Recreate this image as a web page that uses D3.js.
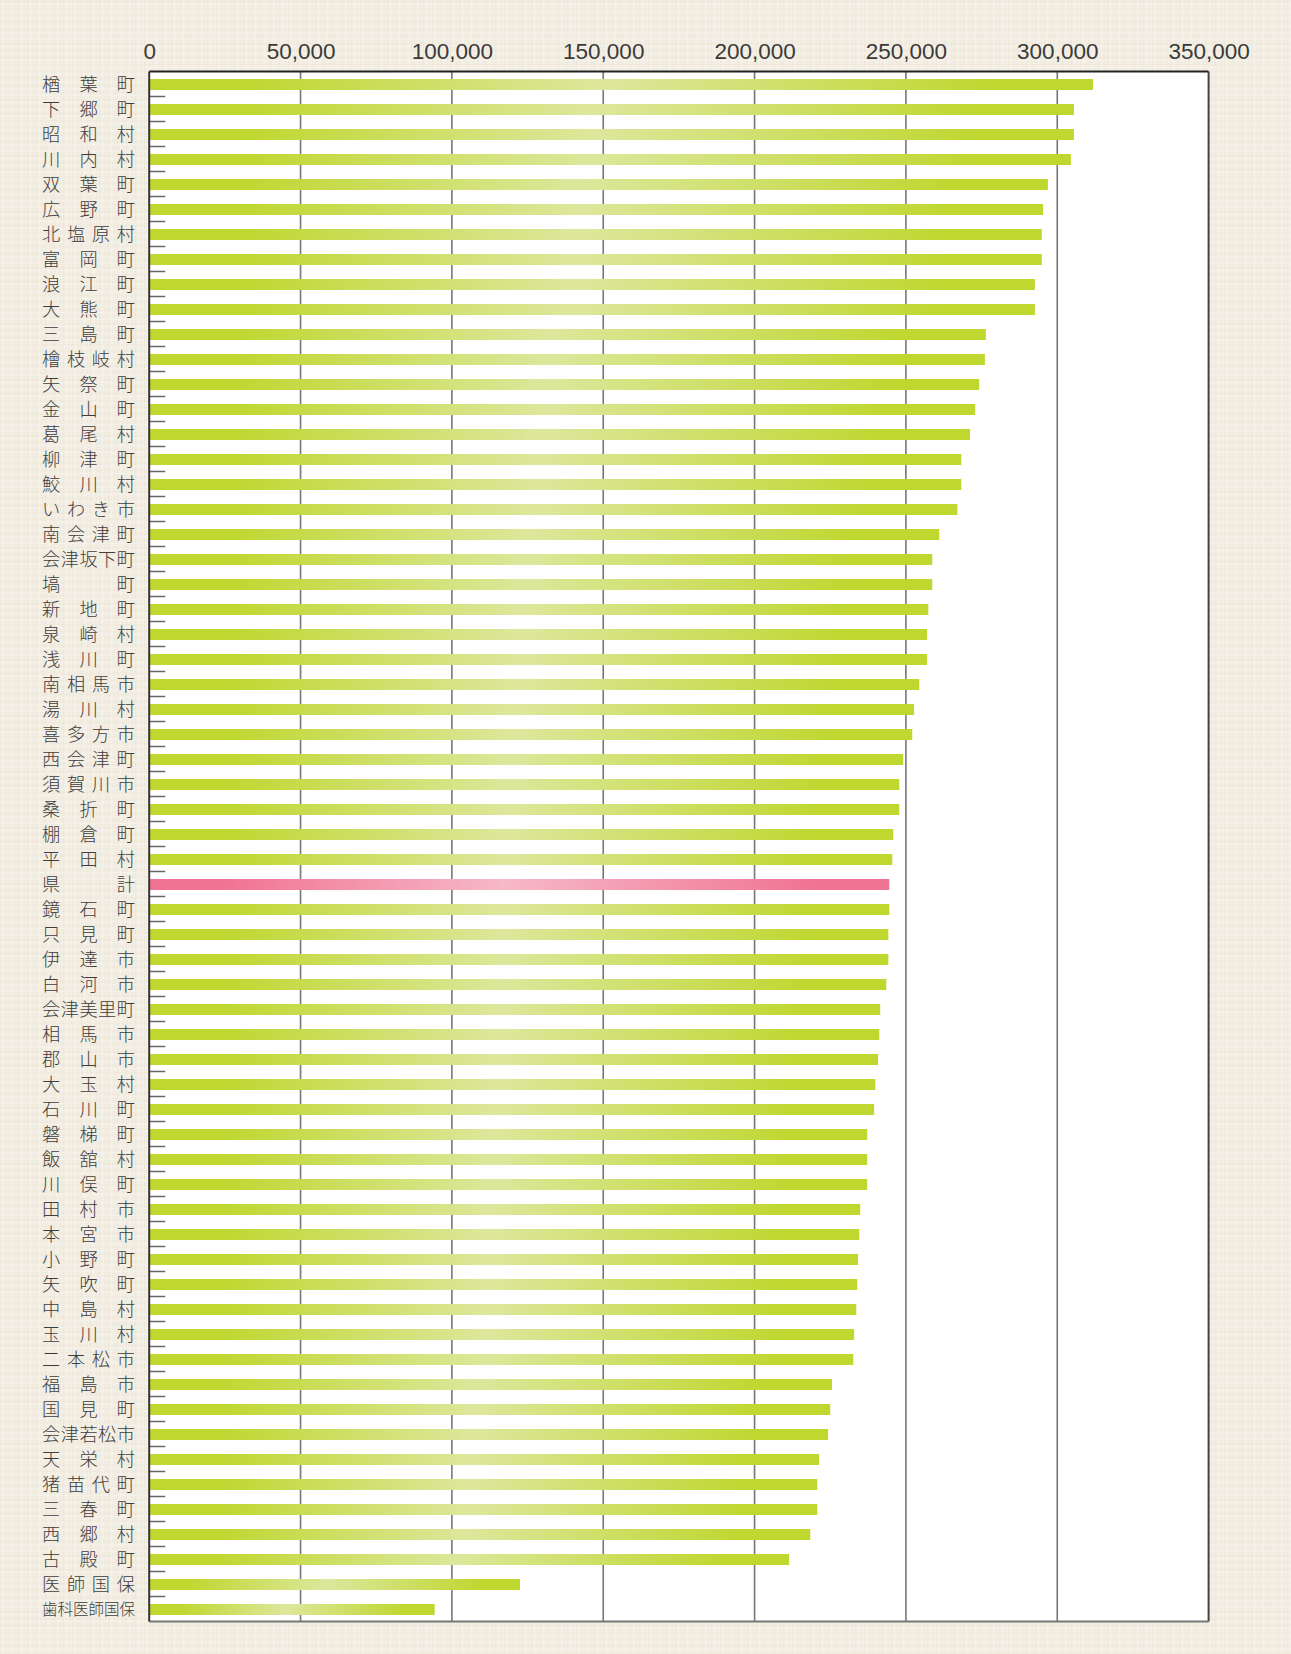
<!DOCTYPE html>
<html>
<head>
<meta charset="utf-8">
<script src="https://cdn.jsdelivr.net/npm/d3@7"></script>
<style>
  html, body { margin: 0; padding: 0; background: #f3eee3; }
  svg { display: block; }
</style>
</head>
<body>
<script>
// ---- data ----
const categories = ["楢葉町","下郷町","昭和村","川内村","双葉町","広野町","北塩原村","富岡町","浪江町","大熊町",
  "三島町","檜枝岐村","矢祭町","金山町","葛尾村","柳津町","鮫川村","いわき市","南会津町","会津坂下町",
  "塙町","新地町","泉崎村","浅川町","南相馬市","湯川村","喜多方市","西会津町","須賀川市","桑折町",
  "棚倉町","平田村","県計","鏡石町","只見町","伊達市","白河市","会津美里町","相馬市","郡山市",
  "大玉村","石川町","磐梯町","飯舘村","川俣町","田村市","本宮市","小野町","矢吹町","中島村",
  "玉川村","二本松市","福島市","国見町","会津若松市","天栄村","猪苗代町","三春町","西郷村","古殿町",
  "医師国保","歯科医師国保"];
const values = [311800,305500,305500,304500,296900,295300,294900,294900,292600,292600,
  276400,276100,274200,272900,271200,268300,268300,267000,261000,258700,
  258700,257400,257000,257000,254400,252700,252100,249100,247800,247800,
  245800,245500,244500,244500,244200,244200,243500,241500,241200,240800,
  239900,239500,237200,237200,237200,234900,234600,234200,233900,233600,
  232900,232600,225600,225000,224300,221300,220700,220700,218400,211400,
  122500,94300];
const highlight = ["県計"];
const tickValues = [0,50000,100000,150000,200000,250000,300000,350000];

// ---- layout ----
const W = 1291, H = 1654;
const plot = {left: 149.2, right: 1208.6, top: 71.5, bottom: 1621.5};

const svg = d3.select("body").append("svg").attr("width", W).attr("height", H);
const defs = svg.append("defs");

// linen texture
const pat = defs.append("pattern").attr("id","linen").attr("patternUnits","userSpaceOnUse")
  .attr("width", 9).attr("height", 7);
pat.append("rect").attr("width",9).attr("height",7).attr("fill","#f3eee3");
[[0,"#ebe4d6",0.6],[3,"#f7f3eb",0.7],[6,"#eee8db",0.5]].forEach(([px,c,o]) =>
  pat.append("rect").attr("x",px).attr("y",0).attr("width",1).attr("height",7).attr("fill",c).attr("opacity",o));
[[1,"#ede6d8",0.5],[4,"#f8f5ee",0.6]].forEach(([py,c,o]) =>
  pat.append("rect").attr("x",0).attr("y",py).attr("width",9).attr("height",1).attr("fill",c).attr("opacity",o));

function grad(id, sat, light) {
  const g = defs.append("linearGradient").attr("id", id).attr("x1","0").attr("x2","1").attr("y1","0").attr("y2","0");
  [[0,sat],[0.1,sat],[0.48,light],[0.9,sat],[1,sat]].forEach(([o,c]) =>
    g.append("stop").attr("offset", o).attr("stop-color", c));
}
grad("gGreen", "#bfd72f", "#dde79c");
grad("gPink", "#f07393", "#f6b9c6");

svg.append("rect").attr("width", W).attr("height", H).attr("fill", "url(#linen)");

// scales
const x = d3.scaleLinear().domain([0, 350000]).range([plot.left, plot.right]);
const y = d3.scaleBand().domain(categories).range([plot.top, plot.bottom]).padding(0);

// plot background
svg.append("rect").attr("x", plot.left).attr("y", plot.top)
  .attr("width", plot.right - plot.left).attr("height", plot.bottom - plot.top).attr("fill", "#fff");

// gridlines
svg.append("g").selectAll("line").data(tickValues.filter(d => d > 0 && d < 350000)).join("line")
  .attr("x1", d => x(d)).attr("x2", d => x(d))
  .attr("y1", plot.top).attr("y2", plot.bottom)
  .attr("stroke", "#777").attr("stroke-width", 1.6);

// bars
const barH = y.bandwidth() * 0.44;
svg.append("g").selectAll("rect").data(categories).join("rect")
  .attr("x", x(0))
  .attr("y", d => y(d) + y.bandwidth()/2 - barH/2 + 0.5)
  .attr("width", (d, i) => x(values[i]) - x(0))
  .attr("height", barH)
  .attr("fill", d => highlight.includes(d) ? "url(#gPink)" : "url(#gGreen)");

// left tick marks at category boundaries
svg.append("g").selectAll("line").data(categories.slice(1)).join("line")
  .attr("x1", plot.left).attr("x2", plot.left + 16)
  .attr("y1", d => y(d)).attr("y2", d => y(d))
  .attr("stroke", "#666").attr("stroke-width", 1.5);

// frame
svg.append("line").attr("x1", plot.left).attr("x2", plot.right).attr("y1", plot.top).attr("y2", plot.top)
  .attr("stroke", "#222").attr("stroke-width", 2);
svg.append("line").attr("x1", plot.right).attr("x2", plot.right).attr("y1", plot.top).attr("y2", plot.bottom)
  .attr("stroke", "#444").attr("stroke-width", 2);
svg.append("line").attr("x1", plot.left).attr("x2", plot.right).attr("y1", plot.bottom).attr("y2", plot.bottom)
  .attr("stroke", "#777").attr("stroke-width", 2);
svg.append("line").attr("x1", plot.left).attr("x2", plot.left).attr("y1", plot.top).attr("y2", plot.bottom)
  .attr("stroke", "#333").attr("stroke-width", 2);

// top axis labels
const axis = d3.axisTop(x).tickValues(tickValues).tickFormat(d3.format(",")).tickSize(0).tickPadding(0);
const ag = svg.append("g").attr("transform", `translate(0, 59)`).call(axis);
ag.select(".domain").remove();
ag.selectAll("text").attr("font-family", "'Liberation Sans', Arial, sans-serif")
  .attr("font-size", 22.5).attr("fill", "#3a3a3a").attr("dy", 0);

// category labels, justified char by char
const lx0 = 42, lx1 = 135;
const lg = svg.append("g").attr("font-family", "'Noto Sans CJK JP', sans-serif")
  .attr("font-weight", 300).attr("fill", "#3d3d3d");
categories.forEach(name => {
  const chars = Array.from(name);
  const n = chars.length;
  const cw = Math.min(18.2, (lx1 - lx0) / n);
  const step = n > 1 ? (lx1 - lx0 - cw) / (n - 1) : 0;
  const cy = y(name) + y.bandwidth() / 2 - 1;
  chars.forEach((c, i) => {
    lg.append("text").attr("x", lx0 + i * step + cw / 2).attr("y", cy)
      .attr("text-anchor", "middle").attr("dominant-baseline", "central")
      .attr("font-size", cw).text(c);
  });
});
</script>
</body>
</html>
